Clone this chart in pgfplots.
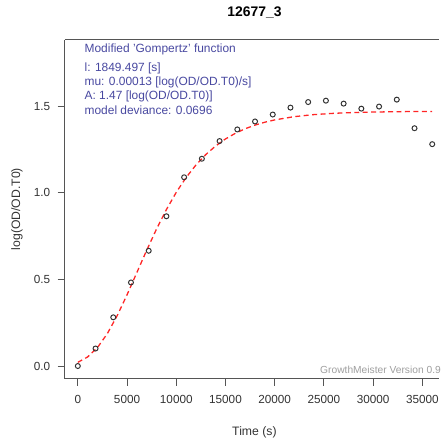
\documentclass[border=0pt]{standalone}
\usepackage{pgfplots}
\pgfplotsset{compat=1.18}
\usepackage{fontspec}
\setmainfont{Liberation Sans}
\definecolor{legtext}{HTML}{4848A0}
\definecolor{axgray}{HTML}{555555}
\definecolor{ticktext}{HTML}{333333}
\definecolor{fitred}{HTML}{FF2525}

\begin{document}
\begin{tikzpicture}
% page frame 442 x 441
\path (0pt,0pt) rectangle (442pt,441pt);
\begin{axis}[
  at={(65pt,60pt)}, anchor=south west,
  scale only axis,
  width=377pt, height=341pt,
  xmin=-1343, xmax=36715,
  ymin=-0.0728, ymax=1.8825,
  axis lines*=left,
  axis line style={axgray, line width=0.9pt, -},
  tick style={axgray, line width=0.9pt},
  tick align=outside,
  major tick length=7pt,
  scaled x ticks=false,
  xtick={0,5000,10000,15000,20000,25000,30000,35000},
  ytick={0,0.5,1.0,1.5},
  xticklabel style={/pgf/number format/1000 sep={}, yshift=-6pt},
  yticklabel style={/pgf/number format/fixed, /pgf/number format/fixed zerofill, /pgf/number format/precision=1, xshift=-4pt},
  /pgf/number format/assume math mode=true,
  tick label style={font=\fontsize{11.8}{13}\selectfont, text=ticktext},
  title={\bfseries 12677\_3},
  title style={font=\fontsize{14}{16}\selectfont, at={(axis description cs:0.5,1)}, anchor=center, xshift=2.5pt, yshift=21pt},
  xlabel={Time (s)},
  ylabel={log(OD/OD.T0)},
  every axis x label/.style={at={(axis description cs:0.5,0)}, anchor=center, xshift=2.5pt, yshift=-54pt, font=\fontsize{12.3}{14}\selectfont, text=ticktext},
  every axis y label/.style={at={(axis description cs:0,0.5)}, anchor=center, rotate=90, yshift=48pt, font=\fontsize{12.3}{14}\selectfont, text=ticktext},
  clip=false,
]
% top border of the plot box (right side is cut off in the reference)
\draw[axgray, line width=0.9pt] (rel axis cs:0,1) -- (rel axis cs:1,1);
% fitted modified Gompertz curve
\addplot[fitred, line width=1.3pt, dash pattern=on 5pt off 3.5pt] coordinates {
  (0,0.0212) (1000,0.0524) (2000,0.1069) (3000,0.1871) (4000,0.2907)
  (5000,0.4109) (6000,0.5396) (7000,0.6685) (8000,0.7910) (9000,0.9030)
  (10000,1.0022) (11000,1.0877) (12000,1.1599) (13000,1.2201) (14000,1.2697)
  (15000,1.3101) (16000,1.3427) (17000,1.3690) (18000,1.3900) (19000,1.4067)
  (20000,1.4200) (22000,1.4389) (24000,1.4507) (26000,1.4580) (28000,1.4626)
  (30000,1.4654) (33000,1.4678) (36000,1.4689)
};
% measured values
\addplot[only marks, mark=o, mark size=2.5pt, mark options={draw=ticktext, line width=1pt}] coordinates {
  (0,0.000) (1800,0.101) (3600,0.281) (5400,0.482) (7200,0.665)
  (9000,0.864) (10800,1.089) (12600,1.196) (14400,1.298) (16200,1.365)
  (18000,1.411) (19800,1.451) (21600,1.491) (23400,1.523) (25200,1.531)
  (27000,1.514) (28800,1.485) (30600,1.497) (32400,1.537) (34200,1.372)
  (36000,1.280)
};
\end{axis}
\begin{scope}[every node/.style={anchor=west, inner sep=0pt, text=legtext, font=\fontsize{12}{13}\selectfont}]
\node at (85pt,391pt) {Modified 'Gompertz' function};
\node at (85pt,372pt) {l: 1849.497 [s]};
\node at (85pt,358pt) {mu: 0.00013 [log(OD/OD.T0)/s]};
\node at (85pt,344pt) {A: 1.47 [log(OD/OD.T0)]};
\node at (85pt,330pt) {model deviance: 0.0696};
\end{scope}
\node[anchor=west, inner sep=0pt, text=gray!75, font=\fontsize{10.3}{11}\selectfont] at (322pt,69pt) {GrowthMeister Version 0.9};
\end{tikzpicture}
\end{document}
